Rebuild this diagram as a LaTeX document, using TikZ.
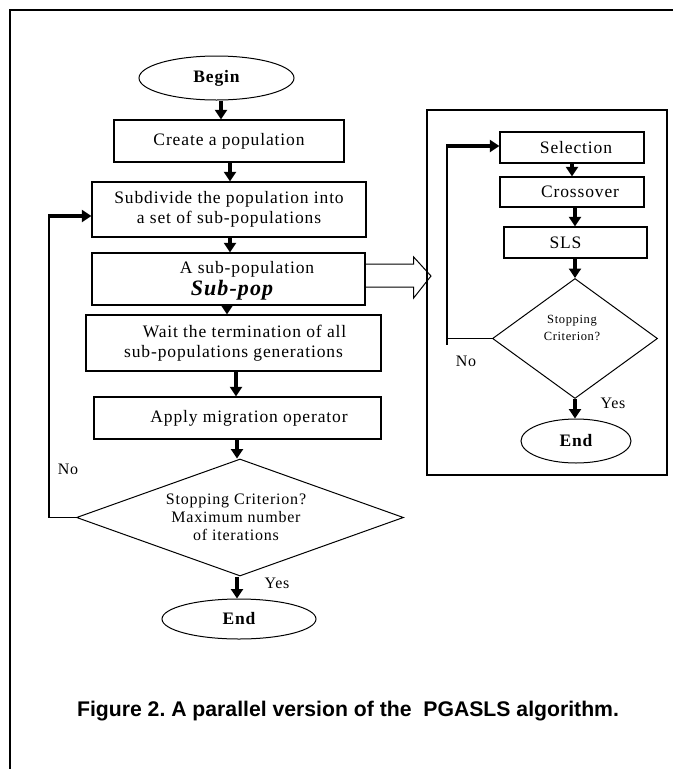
\documentclass[tikz,border=0pt]{standalone}
\usepackage{fontspec}
\setmainfont{Liberation Serif}[LetterSpace=5.0]
\newfontfamily\capfont{Liberation Sans}
\usetikzlibrary{shapes.geometric,arrows.meta,calc}
\frenchspacing

\tikzset{
  box/.style={draw, line width=1.3pt, rectangle, inner sep=0pt, align=center,
    font=\fontsize{17.5}{20.5}\selectfont},
  term/.style={draw, line width=1pt, ellipse, inner sep=0pt,
    font=\fontsize{17.5}{20}\selectfont\bfseries},
  decision/.style={draw, line width=1pt, diamond, inner sep=0pt},
  conn/.style={line width=3.2pt, -{Triangle[length=9.5pt,width=12pt]}},
  thinline/.style={line width=1.3pt},
  loopline/.style={line width=2pt},
  lbl/.style={font=\fontsize{16}{19}\selectfont, inner sep=0pt},
  frameline/.style={line width=2pt},
  hollow/.style={line width=1pt, line join=miter}
}

\begin{document}
\begin{tikzpicture}[x=1pt, y=-1pt]
\useasboundingbox (0,0) rectangle (673,769);

% outer frame (top and left edges)
\draw[frameline] (10,769) -- (10,9.5) -- (673,9.5);

% ---- main flow ----
\node[term, minimum width=155pt, minimum height=44pt] (begin) at (216.5,78) {Begin};
\node[box, minimum width=230pt, minimum height=42pt] (create) at (229,141) {Create a population};
\node[box, minimum width=274pt, minimum height=55pt] (subdiv) at (229,209.5)
  {Subdivide the population into\\a set of sub-populations};
\node[box, minimum width=273pt, minimum height=52pt] (subpop) at (228.5,279) {};
\node[lbl, font=\fontsize{17.5}{20}\selectfont] (subpop-a) at (247,269) {A sub-population};
\node[lbl, font=\fontsize{22}{24}\selectfont\bfseries\itshape] (subpop-b) at (232,290) {Sub-pop};
\node[box, minimum width=295pt, minimum height=56pt] (wait) at (233.5,343)
  {\hspace*{22pt}Wait the termination of all\\sub-populations generations};
\node[box, minimum width=287pt, minimum height=42pt] (apply) at (237.5,418)
  {\hspace*{23pt}Apply migration operator};
\node[decision, minimum width=327pt, minimum height=117pt] (stop) at (240,517.5) {};
\node[lbl, align=center, font=\fontsize{16}{18}\selectfont] (stop-t) at (236,517)
  {Stopping Criterion?\\Maximum number\\of iterations};
\node[term, minimum width=154pt, minimum height=40pt] (end) at (239,619) {End};

% connector columns
\coordinate (c1) at (221,0);
\coordinate (c2) at (230,0);
\coordinate (c3) at (230,0);
\coordinate (c4) at (227,0);
\coordinate (c5) at (236,0);
\coordinate (c6) at (237,0);
\coordinate (c7) at (237,0);

\draw[conn] (begin.south -| c1) -- (create.north -| c1);
\draw[conn] (create.south -| c2) -- (subdiv.north -| c2);
\draw[conn] (subdiv.south -| c3) -- (subpop.north -| c3);
\draw[conn] (subpop.south -| c4) -- (wait.north -| c4);
\draw[conn] (wait.south -| c5) -- (apply.north -| c5);
\draw[conn] (apply.south -| c6) -- (stop.north -| c6);
\draw[conn] (stop.south -| c7) -- (end.north -| c7);

% "No" loop back to the subdivision step
\coordinate (lx) at (49,0);
\coordinate (ly) at (0,216);
\draw[thinline] (stop.west) -- (stop.west -| lx);
\draw[loopline] (stop.west -| lx) -- (lx |- ly);
\draw[conn] ($(lx |- ly)+(-1,0)$) -- (subdiv.west |- ly);

\node[lbl] (no1) at (68,469) {No};
\node[lbl] (yes1) at (277,583) {Yes};

% hollow arrow towards the sub-population process
\coordinate (tip) at (431,276);
\draw[hollow] ($(subpop.east)+(0,-15)$) -- ($(subpop.east)+(48,-15)$)
  -- ($(subpop.east)+(48,-22)$) -- (tip) -- ($(subpop.east)+(48,19)$)
  -- ($(subpop.east)+(48,8)$) -- ($(subpop.east)+(0,8)$);

% ---- sub-population process ----
\draw[line width=1.5pt] (427,110) rectangle (667,475);
\node[box, minimum width=144pt, minimum height=31pt] (sel) at (572,147.5) {\hspace*{8pt}Selection};
\node[box, minimum width=144pt, minimum height=30pt] (cross) at (572,192) {\hspace*{16pt}Crossover};
\node[box, minimum width=143pt, minimum height=31pt] (sls) at (575.5,242.5) {SLS\hspace*{20pt}};
\node[decision, minimum width=165pt, minimum height=120pt] (istop) at (575,338.5) {};
\node[lbl, align=center, font=\fontsize{12.5}{17}\selectfont] (istop-t) at (572,327.5)
  {Stopping\\Criterion?};
\node[term, minimum width=110pt, minimum height=44pt] (iend) at (576,441) {End};

\coordinate (d1) at (572,0);
\coordinate (d2) at (575,0);
\coordinate (d3) at (575,0);
\coordinate (d4) at (575,0);
\draw[conn] (sel.south -| d1) -- (cross.north -| d1);
\draw[conn] (cross.south -| d2) -- (sls.north -| d2);
\draw[conn] (sls.south -| d3) -- (istop.north -| d3);
\draw[conn] (istop.south -| d4) -- (iend.north -| d4);

% "No" loop back to selection
\coordinate (mx) at (447,0);
\coordinate (my) at (0,146);
\draw[thinline] (istop.west) -- (istop.west -| mx);
\draw[loopline] ($(istop.west -| mx)+(0,6)$) -- (mx |- my);
\draw[conn] ($(mx |- my)+(-1,0)$) -- (sel.west |- my);

\node[lbl] (no2) at (466,361) {No};
\node[lbl] (yes2) at (613,403) {Yes};

% caption
\node[inner sep=0pt, font=\capfont\fontsize{21.2}{25}\selectfont\bfseries] (caption) at (348,711)
  {Figure 2. A parallel version of the\ \ PGASLS algorithm.};
\end{tikzpicture}
\end{document}
